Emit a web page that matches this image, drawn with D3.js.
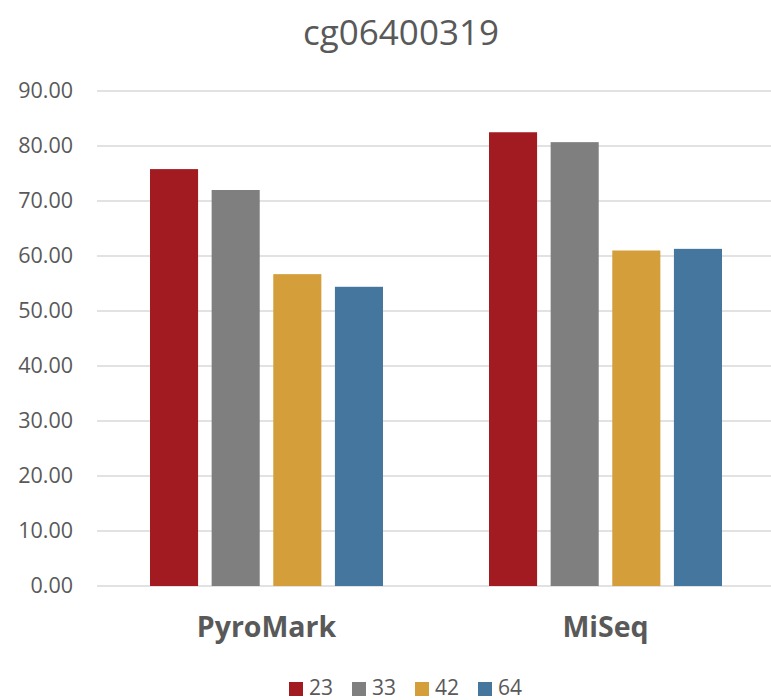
<!DOCTYPE html>
<html><head><meta charset="utf-8">
<script src="https://cdn.jsdelivr.net/npm/d3@7"></script>
<style>body{margin:0;background:#fff}svg{display:block}</style>
</head><body>
<svg id="c" width="771" height="700"></svg>
<script>
const title = "cg06400319";
const categories = ["PyroMark", "MiSeq"];
const seriesNames = ["23", "33", "42", "64"];
const s23 = [75.8, 82.5];
const s33 = [72.0, 80.7];
const s42 = [56.7, 61.0];
const s64 = [54.4, 61.3];
const yTicks = [0, 10, 20, 30, 40, 50, 60, 70, 80, 90];
const colors = ["#A21B21", "#7F7F7F", "#D49E3A", "#44769E"];

const series = [s23, s33, s42, s64];
const svg = d3.select("#c");
const font = "'Open Sans', 'Noto Sans', sans-serif";
const textColor = "#595959";

const x0 = d3.scaleBand().domain(categories).range([97, 775]).paddingInner(0).paddingOuter(0);
const y = d3.scaleLinear().domain([0, 90]).range([586, 91]);

// gridlines
svg.append("g").selectAll("line").data(yTicks).join("line")
  .attr("x1", 97).attr("x2", 771)
  .attr("y1", d => y(d)).attr("y2", d => y(d))
  .attr("stroke", "#d9d9d9").attr("stroke-width", 1.3);

// y axis labels
const yAxis = d3.axisLeft(y).tickValues(yTicks).tickFormat(d3.format(".2f")).tickSize(0).tickPadding(0);
const ga = svg.append("g").attr("transform", "translate(73,0)").call(yAxis);
ga.select(".domain").remove();
ga.selectAll("text").attr("font-family", font).attr("font-size", 21.5).attr("fill", textColor);

// bars
const groupWidth = 233;
const x1 = d3.scaleBand().domain(seriesNames).range([0, groupWidth]).paddingInner(0.22).paddingOuter(0);
const g = svg.append("g");
categories.forEach((cat, ci) => {
  const start = x0(cat) + (x0.bandwidth() - groupWidth) / 2;
  seriesNames.forEach((sn, si) => {
    const v = series[si][ci];
    g.append("rect")
      .attr("x", start + x1(sn))
      .attr("width", x1.bandwidth())
      .attr("y", y(v))
      .attr("height", y(0) - y(v))
      .attr("fill", colors[si]);
  });
});

// x labels
svg.append("g").selectAll("text").data(categories).join("text")
  .attr("x", d => x0(d) + x0.bandwidth() / 2)
  .attr("y", 637)
  .attr("text-anchor", "middle")
  .attr("font-family", font).attr("font-weight", "bold").attr("font-size", 28.5)
  .attr("fill", textColor).text(d => d);

// title
svg.append("text").attr("x", 401).attr("y", 45).attr("text-anchor", "middle")
  .attr("font-family", font).attr("font-size", 35).attr("fill", textColor).text(title);

// legend
const legendX = [289, 352, 415, 478];
const lg = svg.append("g");
seriesNames.forEach((sn, i) => {
  lg.append("rect").attr("x", legendX[i]).attr("y", 682).attr("width", 14).attr("height", 14).attr("fill", colors[i]);
  lg.append("text").attr("x", legendX[i] + 20).attr("y", 694.5)
    .attr("font-family", font).attr("font-size", 21).attr("fill", textColor).text(sn);
});
</script>
</body></html>
